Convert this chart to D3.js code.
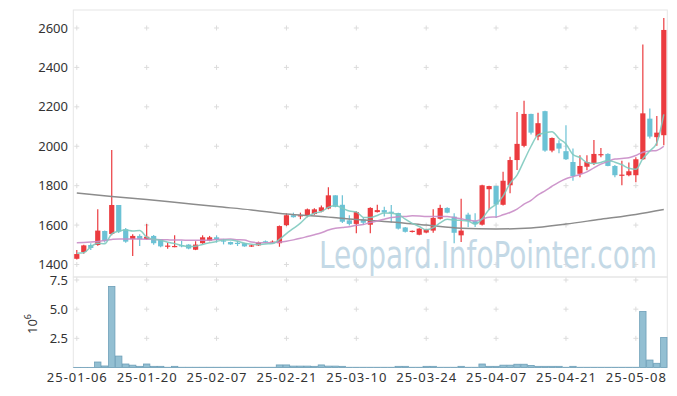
<!DOCTYPE html>
<html>
<head>
<meta charset="utf-8">
<script src="https://cdn.jsdelivr.net/npm/d3@7/dist/d3.min.js"></script>
<style>
body{margin:0;background:#fff}
text{font-family:"Noto Sans",sans-serif}
</style>
</head>
<body>
<div id="chart"></div>
<script>
// trading days, 25-01-06 .. 25-05-14
var dates = ["25-01-06","25-01-07","25-01-08","25-01-09","25-01-10","25-01-13","25-01-14","25-01-15","25-01-16","25-01-17",
 "25-01-20","25-01-21","25-01-22","25-01-23","25-01-24","25-01-31","25-02-03","25-02-04","25-02-05","25-02-06",
 "25-02-07","25-02-10","25-02-11","25-02-12","25-02-13","25-02-14","25-02-17","25-02-18","25-02-19","25-02-20",
 "25-02-21","25-02-24","25-02-25","25-02-26","25-02-27","25-02-28","25-03-04","25-03-05","25-03-06","25-03-07",
 "25-03-10","25-03-11","25-03-12","25-03-13","25-03-14","25-03-17","25-03-18","25-03-19","25-03-20","25-03-21",
 "25-03-24","25-03-25","25-03-26","25-03-27","25-03-28","25-03-31","25-04-01","25-04-02","25-04-03","25-04-04",
 "25-04-07","25-04-08","25-04-09","25-04-10","25-04-11","25-04-14","25-04-15","25-04-16","25-04-17","25-04-18",
 "25-04-21","25-04-22","25-04-23","25-04-24","25-04-25","25-04-28","25-04-29","25-04-30","25-05-02","25-05-07",
 "25-05-08","25-05-09","25-05-12","25-05-13","25-05-14"]

var open = [1429,1463,1499,1499,1570,1555,1702,1579,1529,1545,
 1529,1545,1528,1492,1490,1498,1501,1475,1508,1521,
 1538,1522,1514,1510,1508,1491,1497,1518,1512,1508,
 1600,1650,1645,1646,1656,1670,1684,1751,1703,1624,
 1606,1629,1602,1666,1676,1668,1661,1588,1565,1551,
 1562,1572,1632,1687,1643,1548,1653,1620,1602,1782,
 1798,1703,1802,1930,2002,2164,2049,2178,1978,2015,
 1975,1920,1860,1896,1914,1955,1961,1900,1853,1853,
 1853,1934,2140,2046,2056]
var high = [1474,1500,1508,1680,1572,1981,1702,1585,1553,1553,
 1606,1550,1530,1510,1548,1521,1503,1518,1548,1545,
 1548,1530,1516,1521,1510,1500,1516,1522,1522,1598,
 1660,1663,1663,1684,1685,1700,1792,1752,1751,1650,
 1670,1640,1690,1703,1693,1702,1663,1590,1573,1584,
 1582,1680,1703,1690,1660,1734,1662,1660,1805,1800,
 1800,1870,1947,2174,2231,2165,2170,2180,2045,2030,
 2107,1988,1954,1954,2032,1991,1965,1905,1927,1917,
 1944,2516,2191,2154,2651]
var low = [1425,1455,1474,1495,1512,1548,1560,1510,1443,1494,
 1525,1500,1488,1480,1487,1487,1478,1473,1505,1518,
 1511,1502,1500,1494,1490,1489,1494,1508,1508,1490,
 1595,1638,1630,1640,1652,1665,1680,1690,1610,1598,
 1558,1600,1558,1664,1643,1612,1578,1562,1562,1548,
 1558,1561,1628,1660,1508,1514,1590,1590,1598,1677,
 1636,1700,1762,1880,1995,2060,2030,1972,1970,1965,
 1930,1825,1843,1878,1905,1944,1898,1843,1802,1848,
 1817,1930,2039,2002,2005]
var close = [1453,1497,1484,1572,1520,1702,1567,1516,1545,1528,
 1541,1508,1492,1496,1494,1494,1481,1501,1538,1538,
 1526,1517,1502,1505,1492,1497,1511,1514,1516,1595,
 1650,1640,1650,1680,1680,1690,1751,1693,1617,1606,
 1666,1612,1687,1676,1664,1662,1582,1566,1571,1582,
 1579,1636,1687,1663,1561,1572,1620,1605,1802,1798,
 1704,1825,1930,2012,2164,2069,2117,1978,2042,1988,
 1934,1849,1900,1920,1961,1960,1900,1853,1856,1873,
 1934,2167,2049,2069,2590]
var volume = [10000,10000,10000,470000,130000,6950000,980000,300000,200000,100000,
 300000,100000,100000,20000,100000,20000,20000,20000,20000,20000,
 20000,20000,20000,20000,20000,20000,20000,20000,20000,220000,
 220000,120000,120000,120000,100000,220000,120000,120000,100000,20000,
 20000,20000,20000,20000,20000,20000,100000,100000,20000,20000,
 100000,100000,20000,20000,20000,100000,20000,20000,300000,100000,
 100000,200000,200000,280000,280000,180000,100000,100000,100000,100000,
 20000,100000,20000,20000,20000,20000,20000,20000,20000,20000,
 20000,4800000,640000,360000,2570000]

// moving averages as drawn
var ma5 = [1457,1460,1490,1508,1505,1555,1569,1575,1570,1572,
 1539,1528,1523,1513,1506,1497,1491,1493,1502,1510,
 1517,1524,1524,1518,1508,1503,1501,1504,1506,1527,
 1557,1583,1610,1643,1660,1668,1690,1699,1686,1671,
 1667,1639,1638,1649,1661,1660,1654,1630,1609,1593,
 1576,1587,1611,1629,1625,1624,1621,1604,1632,1679,
 1706,1747,1812,1854,1927,2000,2058,2068,2074,2039,
 2012,1958,1943,1918,1913,1918,1928,1919,1906,1888,
 1883,1937,1976,2018,2162]
var ma20 = [1511,1512,1514,1517,1522,1527,1530,1530,1530,1529,
 1528,1527,1526,1525,1524,1524,1523,1523,1523,1523,
 1527,1528,1529,1526,1524,1514,1511,1511,1510,1513,
 1518,1525,1533,1542,1551,1561,1575,1584,1588,1592,
 1599,1603,1613,1621,1630,1638,1642,1644,1647,1646,
 1643,1643,1644,1644,1638,1632,1625,1621,1630,1640,
 1641,1652,1664,1681,1706,1726,1753,1774,1797,1818,
 1835,1846,1857,1870,1890,1909,1923,1935,1938,1942,
 1953,1970,1976,1979,2000]
var maLongAt = [0,5,10,15,20,25,30,35,40,45,50,55,60,65,70,75,80,84]
var maLong = [1763,1745,1730,1712,1694,1677,1656,1644,1628,1616,1600,1584,1580,1585,1605,1630,1654,1679]

var priceTicks = [1400,1600,1800,2000,2200,2400,2600]
var volTicks = [2.5e6,5e6,7.5e6]
var volTickLabels = ["2.5","5.0","7.5"]

var svg = d3.select("#chart").append("svg").attr("width",677).attr("height",396)

var x = d3.scaleBand().domain(d3.range(dates.length)).range([73.3,667.3])
var y = d3.scaleLinear().domain([1336.6,2691.3]).range([277,10])
var yv = d3.scaleLinear().domain([0,7.757e6]).range([367.5,277])
var cx = function(i){ return x(i)+x.bandwidth()/2 }
var dateTicks = d3.range(0,dates.length,10)

// frames
svg.append("rect").attr("x",73.3).attr("y",10).attr("width",594).attr("height",267)
  .attr("fill","none").attr("stroke","#e6e6e6")
svg.append("rect").attr("x",73.3).attr("y",277).attr("width",594).attr("height",90.5)
  .attr("fill","none").attr("stroke","#e6e6e6")

// grid crosses
function cross(g,px,py){
  g.append("line").attr("x1",px-2.5).attr("x2",px+2.5).attr("y1",py).attr("y2",py)
  g.append("line").attr("x1",px).attr("x2",px).attr("y1",py-2.5).attr("y2",py+2.5)
}
var grid = svg.append("g").attr("stroke","#dcdcdc").attr("stroke-width",1)
dateTicks.forEach(function(i){
  priceTicks.forEach(function(p){ cross(grid,cx(i),y(p)) })
  volTicks.forEach(function(v){ cross(grid,cx(i),yv(v)) })
})

// watermark
svg.append("text").text("Leopard.InfoPointer.com")
  .attr("x",319).attr("y",268).attr("font-size",37)
  .attr("textLength",338).attr("lengthAdjust","spacingAndGlyphs")
  .style("font-family","'Liberation Sans Narrow','DejaVu Sans Condensed',sans-serif")
  .attr("fill","#c4d9e6")

// candles
var up = "#eb3b3f", down = "#6bc2d5"
var candles = svg.append("g").selectAll("g").data(d3.range(dates.length)).enter().append("g")
candles.append("line")
  .attr("x1",cx).attr("x2",cx)
  .attr("y1",function(i){return y(high[i])})
  .attr("y2",function(i){return y(low[i])})
  .attr("stroke",function(i){return close[i]>=open[i]?up:down})
  .attr("stroke-width",1.2)
candles.append("rect")
  .attr("x",function(i){return cx(i)-2.6})
  .attr("width",5.2)
  .attr("y",function(i){return y(Math.max(open[i],close[i]))})
  .attr("height",function(i){return Math.max(1.2,Math.abs(y(open[i])-y(close[i])))})
  .attr("fill",function(i){return close[i]>=open[i]?up:down})

// moving average lines
var lineIdx = d3.line().x(function(d,i){return cx(i)}).y(function(d){return y(d)}).curve(d3.curveMonotoneX)
svg.append("path").datum(maLong).attr("fill","none").attr("stroke","#8c8c8c").attr("stroke-width",1.5)
  .attr("d",d3.line().x(function(d,k){return cx(maLongAt[k])}).y(function(d){return y(d)}).curve(d3.curveMonotoneX))
svg.append("path").datum(ma20).attr("fill","none").attr("stroke","#c98cc6").attr("stroke-width",1.5)
  .attr("opacity",0.9).attr("d",lineIdx)
svg.append("path").datum(ma5).attr("fill","none").attr("stroke","#80cabf").attr("stroke-width",1.5)
  .attr("opacity",0.9).attr("d",lineIdx)

// volume bars
svg.append("g").selectAll("rect").data(volume).enter().append("rect")
  .attr("x",function(d,i){return x(i)+0.3})
  .attr("width",x.bandwidth()-0.6)
  .attr("y",function(d){return yv(d)})
  .attr("height",function(d){return yv(0)-yv(d)})
  .attr("fill","#93bfd2").attr("stroke","#6d9fb8").attr("stroke-width",0.8)

// axes labels
svg.append("g").selectAll("text").data(priceTicks).enter().append("text")
  .text(function(d){return d})
  .attr("x",68).attr("y",function(d){return y(d)}).attr("dy","0.35em")
  .attr("text-anchor","end").attr("font-size",13).attr("fill","#333")
svg.append("g").selectAll("text").data(volTicks).enter().append("text")
  .text(function(d,i){return volTickLabels[i]})
  .attr("x",68).attr("y",function(d){return yv(d)}).attr("dy","0.35em")
  .attr("text-anchor","end").attr("font-size",13).attr("fill","#333")
svg.append("g").selectAll("text").data(dateTicks).enter().append("text")
  .text(function(i){return dates[i]})
  .attr("x",function(i){return cx(i)-30}).attr("y",382)
  .attr("textLength",60).attr("lengthAdjust","spacing")
  .attr("font-size",13).attr("fill","#333")

var vl = svg.append("text").attr("transform","translate(37,324) rotate(-90)")
  .attr("text-anchor","middle").attr("font-size",13).attr("fill","#333")
vl.append("tspan").text("10")
vl.append("tspan").text("6").attr("font-size",9).attr("dy",-6)
</script>
</body>
</html>
